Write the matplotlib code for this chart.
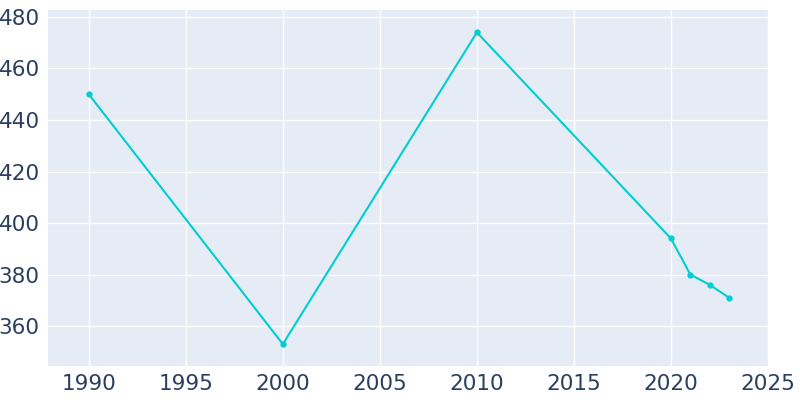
import matplotlib
matplotlib.use("Agg")
import matplotlib.pyplot as plt

# population by year
years = [1990, 2000, 2010, 2020, 2021, 2022, 2023]
population = [450, 353, 474, 394, 380, 376, 371]

x_ticks = [1990, 1995, 2000, 2005, 2010, 2015, 2020, 2025]
y_ticks = [360, 380, 400, 420, 440, 460, 480]

fig = plt.figure(figsize=(8, 4), dpi=100)
ax = fig.add_axes([0.06, 0.085, 0.90, 0.89])
ax.set_facecolor("#E5ECF6")

ax.plot(years, population, color="#00CED1", linewidth=1.5,
        marker="o", markersize=3.5, zorder=3)

ax.set_xlim(1987.9, 2025)
ax.set_ylim(344.5, 482.7)
ax.set_xticks(x_ticks)
ax.set_yticks(y_ticks)
ax.grid(True, color="white", linewidth=1)
ax.set_axisbelow(True)
for s in ax.spines.values():
    s.set_visible(False)
ax.tick_params(length=0, labelsize=15.5, colors="#2a3f5f", pad=6)

fig.savefig("out.png")
